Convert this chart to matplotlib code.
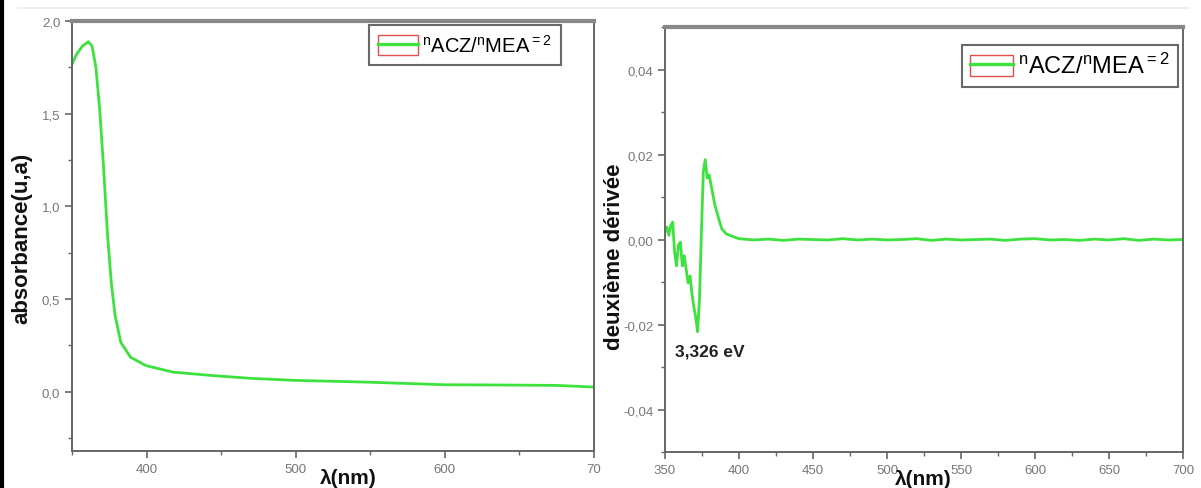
import matplotlib
matplotlib.use("Agg")
import matplotlib.pyplot as plt
from matplotlib.ticker import MultipleLocator, FuncFormatter
from matplotlib.patches import Patch
from matplotlib.lines import Line2D

plt.rcParams['font.family'] = ['Liberation Sans', 'DejaVu Sans']

# ---- data: absorbance ----
abs_wl = [350, 353, 357, 361, 363.4, 366, 368.6, 371.1, 373.7, 376.3, 378.9, 382.7,
          389.2, 399.5, 417.5, 443.3, 470, 500, 546, 600, 640, 675, 700]
abs_val = [1.768, 1.821, 1.866, 1.889, 1.866, 1.75, 1.517, 1.213, 0.856, 0.588, 0.409, 0.266,
           0.186, 0.141, 0.106, 0.0875, 0.072, 0.061, 0.052, 0.0375, 0.036, 0.034, 0.025]

# ---- data: second derivative ----
d2_wl = [350, 351.3, 352.6, 353.9, 355.2, 356.5, 357.8, 359.0, 360.4, 361.7, 363.0, 364.3,
         365.6, 366.9, 368.1, 369.4, 370.7, 372.0, 373.3, 374.6, 375.9, 377.2, 378.5, 379.8,
         381.1, 382.4, 383.7, 385.0, 386.3, 388.4, 391.5, 396.7,
         400, 410, 420, 430, 440, 450, 460, 470, 480, 490, 500, 510, 520, 530, 540, 550,
         560, 570, 580, 590, 600, 610, 620, 630, 640, 650, 660, 670, 680, 690, 700]
d2_val = [0.0017, 0.0029, 0.0010, 0.0033, 0.0041, -0.0030, -0.0062, -0.0014, -0.0006, -0.0062,
          -0.0038, -0.0070, -0.0102, -0.0086, -0.0125, -0.0157, -0.0181, -0.0217, -0.0141, 0.0017,
          0.0160, 0.0188, 0.0145, 0.0152, 0.0129, 0.0105, 0.0081, 0.0065, 0.0049, 0.0025,
          0.0013, 0.0006,
          0.0002, -0.0001, 0.0001, -0.0002, 0.0001, 0.0000, -0.0001, 0.0002, -0.0001, 0.0001,
          -0.0001, 0.0000, 0.0002, -0.0002, 0.0001, -0.0001, 0.0000, 0.0001, -0.0002, 0.0001,
          0.0002, -0.0001, 0.0000, -0.0002, 0.0001, -0.0001, 0.0002, -0.0002, 0.0001, -0.0001,
          0.0000]

legend_left = r"$\mathregular{^{n}ACZ/^{n}MEA^{=2}}$"
legend_right = r"$\mathregular{^{n}ACZ/^{n}MEA^{=2}}$"
annot_text = "3,326 eV"

GREEN = '#3ee23e'
FRAME = '#666666'
TICKC = '#777777'

fig = plt.figure(figsize=(12.01, 4.89), dpi=100)
fig.patch.set_facecolor('white')

ax1 = fig.add_axes([0.0600, 0.0757, 0.4346, 0.879])
ax2 = fig.add_axes([0.5537, 0.0736, 0.4313, 0.869])

comma1 = FuncFormatter(lambda v, p: f"{v:.1f}".replace('.', ','))
comma2 = FuncFormatter(lambda v, p: f"{v:.2f}".replace('.', ',').replace('-0,00', '0,00'))

def style(ax):
    for s in ax.spines.values():
        s.set_color(FRAME)
        s.set_linewidth(1.4)
    ax.spines['top'].set_linewidth(3.0)
    ax.spines['top'].set_color('#888888')
    ax.tick_params(which='both', direction='out', colors=FRAME, labelcolor=TICKC,
                   labelsize=9.5, top=False, right=False)
    ax.tick_params(which='major', length=5, width=1.2)
    ax.tick_params(which='minor', length=3, width=1.0)

# ---- left panel ----
ax1.plot(abs_wl, abs_val, color=GREEN, lw=2.0)
ax1.set_xlim(350, 700)
ax1.set_ylim(-0.32, 2.0)
ax1.xaxis.set_major_locator(MultipleLocator(100))
ax1.xaxis.set_minor_locator(MultipleLocator(50))
ax1.yaxis.set_major_locator(MultipleLocator(0.5))
ax1.yaxis.set_minor_locator(MultipleLocator(0.25))
ax1.yaxis.set_major_formatter(comma1)
ax1.xaxis.set_major_formatter(FuncFormatter(lambda v, p: "" if v < 399 else ("70" if v > 699 else f"{v:.0f}")))
style(ax1)

h = (Patch(facecolor='none', edgecolor='#e05050', lw=1.0), Line2D([], [], color=GREEN, lw=2.4))
leg1 = ax1.legend([h], [legend_left], loc='upper right', bbox_to_anchor=(0.937, 0.991),
                  fontsize=14.5, frameon=True, fancybox=False, edgecolor='#444444',
                  handlelength=2.0, handleheight=1.15, borderpad=0.45, handletextpad=0.2,
                  borderaxespad=0.0)
leg1.get_frame().set_linewidth(1.5)

# ---- right panel ----
ax2.plot(d2_wl, d2_val, color=GREEN, lw=2.0)
ax2.set_xlim(350, 700)
ax2.set_ylim(-0.05, 0.05)
ax2.xaxis.set_major_locator(MultipleLocator(50))
ax2.xaxis.set_minor_locator(MultipleLocator(25))
ax2.yaxis.set_major_locator(MultipleLocator(0.02))
ax2.yaxis.set_minor_locator(MultipleLocator(0.01))
ax2.yaxis.set_major_formatter(comma2)
style(ax2)
ax2.text(357, -0.0263, annot_text, fontsize=12.5, fontweight='bold', color='#222222',
         ha='left', va='center')

leg2 = ax2.legend([h], [legend_right], loc='upper right', bbox_to_anchor=(0.990, 0.958),
                  fontsize=17, frameon=True, fancybox=False, edgecolor='#444444',
                  handlelength=1.8, handleheight=1.0, borderpad=0.35, handletextpad=0.2,
                  borderaxespad=0.0)
leg2.get_frame().set_linewidth(1.5)

# ---- axis titles ----
fig.text(22 / 1201, 1 - 238 / 489, "absorbance(u,a)", rotation=90, fontsize=16,
         fontweight='bold', ha='center', va='center', color='#111111')
fig.text(615 / 1201, 1 - 257 / 489, "deuxième dérivée", rotation=90, fontsize=16,
         fontweight='bold', ha='center', va='center', color='#111111')
fig.text(348 / 1201, 1 - 479 / 489, "λ(nm)", fontsize=15, fontweight='bold',
         ha='center', va='center', color='#111111')
fig.text(923 / 1201, 1 - 480 / 489, "λ(nm)", fontsize=15, fontweight='bold',
         ha='center', va='center', color='#111111')

# ---- page decorations ----
fig.add_artist(Line2D([0.002, 0.002], [0, 1], transform=fig.transFigure, color='black', lw=3))
fig.add_artist(Line2D([0.015, 0.99], [1 - 9 / 489, 1 - 9 / 489], transform=fig.transFigure,
                      color='#eeeeee', lw=1.5))

fig.savefig("out.png", dpi=100, facecolor='white')
